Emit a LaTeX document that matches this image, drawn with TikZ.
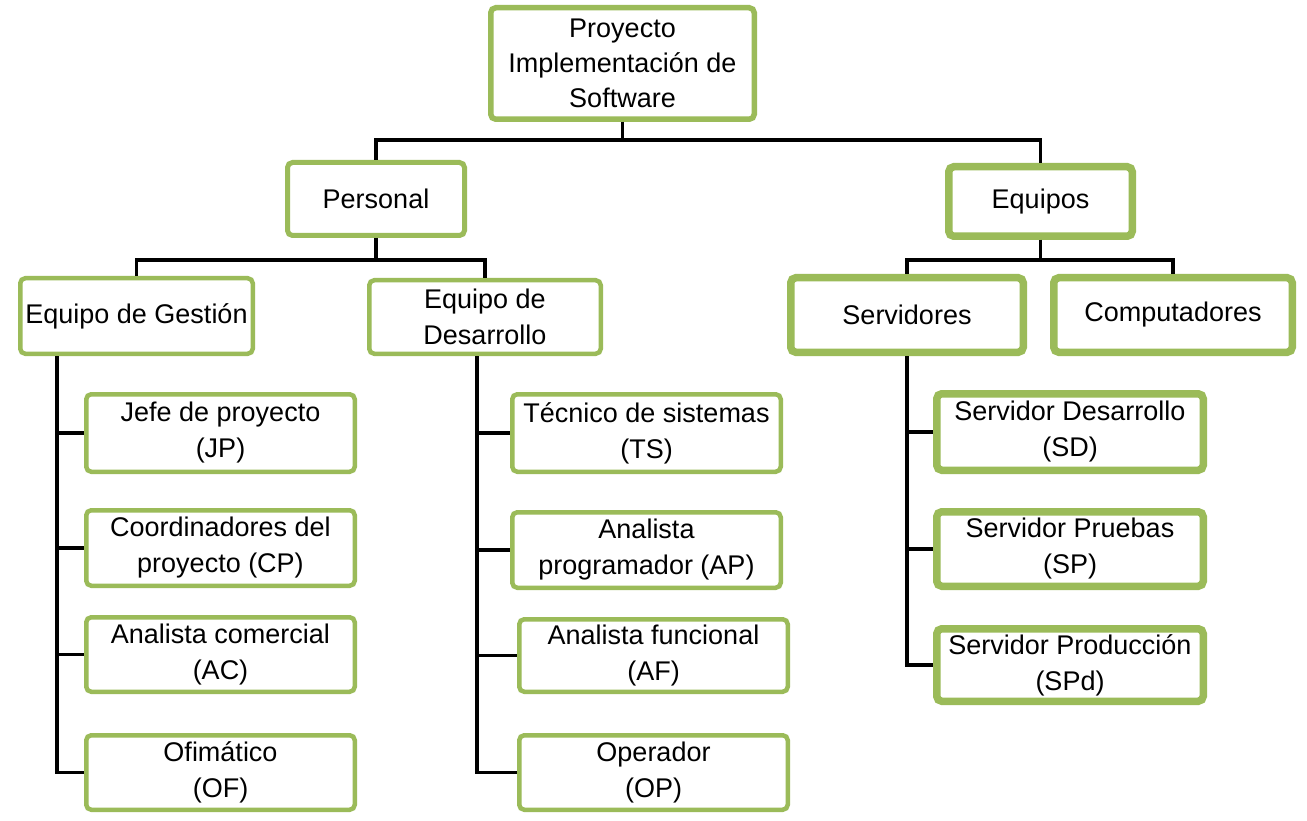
\documentclass[tikz,border=0pt]{standalone}
\usepackage{fontspec}
\setmainfont{Liberation Sans}
\definecolor{boxgreen}{HTML}{9BBB59}
\begin{document}
\begin{tikzpicture}[x=1pt,y=-1pt,
  box/.style={draw=boxgreen, fill=white, line width=4.5pt, rounded corners=5pt,
    inner sep=0pt, align=center, font=\fontsize{27}{36}\selectfont},
  boxthick/.style={box, line width=7.5pt},
  link/.style={draw=black, line width=3.2pt}]
\useasboundingbox (0,0) rectangle (1307,821);
\fill[white] (0,0) rectangle (1307,821);

% top levels
\node[box, line width=5.5pt, minimum width=263.5pt, minimum height=111.5pt,
  font=\fontsize{27}{35}\selectfont] (top) at (622.5,63.5) {Proyecto\\Implementación de\\Software};
\node[box, line width=5pt, minimum width=177pt, minimum height=73pt] (pers) at (376,199) {Personal};
\node[boxthick, minimum width=183.5pt, minimum height=69.5pt] (equi) at (1040.5,201.5) {Equipos};

\node[box, minimum width=232.5pt, minimum height=75.5pt] (eg) at (136.5,316) {Equipo de Gestión};
\node[box, minimum width=231.5pt, minimum height=73.5pt] (ed) at (485,317) {Equipo de\\Desarrollo};
\node[boxthick, minimum width=232.5pt, minimum height=74.5pt] (serv) at (907,315) {Servidores};
\node[boxthick, minimum width=238.5pt, minimum height=74.5pt] (comp) at (1173,315) {Computadores};

% left column
\node[box, minimum width=268.5pt, minimum height=77.5pt] (jp) at (220.5,433) {Jefe de proyecto\\(JP)};
\node[box, minimum width=268.5pt, minimum height=75.5pt] (cp) at (220.5,548) {Coordinadores del\\proyecto (CP)};
\node[box, minimum width=268.5pt, minimum height=74.5pt] (ac) at (220.5,654.5) {Analista comercial\\(AC)};
\node[box, minimum width=268.5pt, minimum height=74.5pt] (of) at (220.5,772.5) {Ofimático\\(OF)};

% middle column
\node[box, minimum width=268.5pt, minimum height=77.5pt] (ts) at (646.5,433) {Técnico de sistemas\\(TS)};
\node[box, minimum width=268.5pt, minimum height=75.5pt] (ap) at (646.5,550) {Analista\\programador (AP)};
\node[box, minimum width=268.5pt, minimum height=72.5pt] (af) at (653.5,655.5) {Analista funcional\\(AF)};
\node[box, minimum width=268.5pt, minimum height=74.5pt] (op) at (653.5,772.5) {Operador\\(OP)};

% right column
\node[boxthick, minimum width=266.5pt, minimum height=76.5pt] (sdes) at (1070,432) {Servidor Desarrollo\\(SD)};
\node[boxthick, minimum width=266.5pt, minimum height=74.5pt] (spr) at (1070,549) {Servidor Pruebas\\(SP)};
\node[boxthick, minimum width=266.5pt, minimum height=72.5pt] (spd) at (1070,665) {Servidor Producción\\(SPd)};

% spine coordinates
\coordinate (sg) at (57,356);
\coordinate (sdv) at (477,356);

% connectors
\draw[link] (top.south) -- ++(0,18) -| (pers.north);
\draw[link] (top.south) -- ++(0,18) -| (equi.north);
\draw[link] (pers.south) -- ++(0,22) -| (eg.north);
\draw[link] (pers.south) -- ++(0,22) -| (ed.north);
\draw[link] (equi.south) -- ++(0,20) -| (serv.north);
\draw[link] (equi.south) -- ++(0,20) -| (comp.north);

\draw[link] (sg) |- (jp.west);
\draw[link] (sg) |- (cp.west);
\draw[link] (sg) |- (ac.west);
\draw[link] (sg) |- (of.west);

\draw[link] (sdv) |- (ts.west);
\draw[link] (sdv) |- (ap.west);
\draw[link] (sdv) |- (af.west);
\draw[link] (sdv) |- (op.west);

\draw[link] (serv.south) |- (sdes.west);
\draw[link] (serv.south) |- (spr.west);
\draw[link] (serv.south) |- (spd.west);
\end{tikzpicture}
\end{document}
